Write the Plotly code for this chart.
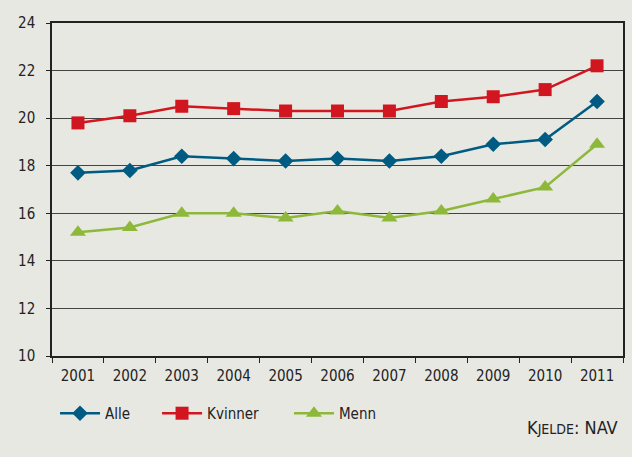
import plotly.graph_objects as go

years = ["2001", "2002", "2003", "2004", "2005", "2006", "2007", "2008", "2009", "2010", "2011"]
alle = [17.7, 17.8, 18.4, 18.3, 18.2, 18.3, 18.2, 18.4, 18.9, 19.1, 20.7]
kvinner = [19.8, 20.1, 20.5, 20.4, 20.3, 20.3, 20.3, 20.7, 20.9, 21.2, 22.2]
menn = [15.2, 15.4, 16.0, 16.0, 15.8, 16.1, 15.8, 16.1, 16.6, 17.1, 18.9]
y_ticks = [10, 12, 14, 16, 18, 20, 22, 24]

FONT = "DejaVu Sans Condensed, Liberation Sans Narrow, sans-serif"
BG = "#E8E8E2"

fig = go.Figure()
fig.add_trace(go.Scatter(x=years, y=alle, name="Alle", mode="lines+markers", legend="legend",
                         line=dict(color="#005B82", width=2.5),
                         marker=dict(symbol="diamond", size=12, color="#005B82")))
fig.add_trace(go.Scatter(x=years, y=kvinner, name="Kvinner", mode="lines+markers", legend="legend2",
                         line=dict(color="#D1161F", width=2.5),
                         marker=dict(symbol="square", size=13, color="#D1161F")))
fig.add_trace(go.Scatter(x=years, y=menn, name="Menn", mode="lines+markers", legend="legend3",
                         line=dict(color="#8DB83A", width=2.5),
                         marker=dict(symbol="triangle-up", size=14, color="#8DB83A")))

leg_common = dict(orientation="h", xanchor="left", y=-0.123, yanchor="top",
                  bgcolor="rgba(0,0,0,0)", font=dict(family=FONT, size=15, color="#222222"),
                  itemwidth=40)

fig.update_layout(
    width=632, height=457,
    margin=dict(l=52, r=9, t=23, b=101, autoexpand=False),
    paper_bgcolor=BG, plot_bgcolor=BG,
    font=dict(family=FONT, size=15, color="#222222"),
    showlegend=True,
    legend=dict(x=0.0053, **leg_common),
    legend2=dict(x=0.184, **leg_common),
    legend3=dict(x=0.415, **leg_common),
    xaxis=dict(type="category", range=[-0.5, 10.5], tickson="boundaries", ticks="outside",
               ticklen=5, tickcolor="#222222", showgrid=False, showline=True,
               linecolor="#222222", linewidth=1.5, mirror=True, zeroline=False,
               ticklabelstandoff=5),
    yaxis=dict(range=[10, 24], tickvals=y_ticks, ticks="outside", ticklen=4,
               tickcolor="#222222", showgrid=True, gridcolor="#444444", gridwidth=1,
               showline=True, linecolor="#222222", linewidth=1.5, mirror=True,
               zeroline=False, ticklabelstandoff=8),
    annotations=[dict(text="K<span style='font-size:14px'>JELDE</span>: NAV",
                      xref="paper", yref="paper", x=0.995, y=-0.177, xanchor="right",
                      yanchor="top", showarrow=False,
                      font=dict(family=FONT, size=18, color="#222222"))],
)

fig.write_html("out.html", config={"displayModeBar": False},
               post_script="document.body.style.margin='0';")
